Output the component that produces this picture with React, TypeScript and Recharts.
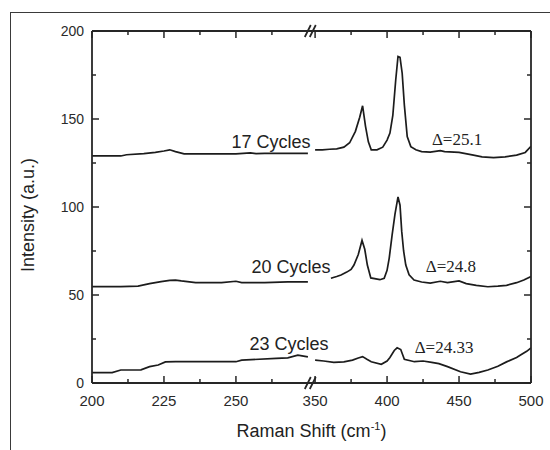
import React from 'react';
import { LineChart, Line, XAxis, YAxis, ReferenceDot } from 'recharts';

// ---- data (Raman shift in cm^-1, intensity in a.u.) ----
const shift17L = [200, 210, 212, 218, 222, 225, 227, 229, 232, 240, 250, 255, 257, 260, 265, 275];
const int17L = [129, 129, 129.7, 130.3, 131, 131.8, 132.5, 131.5, 130.2, 130.2, 130.2, 130.8, 130.3, 130.5, 130.5, 130.5];
const shift17R = [350, 355, 360, 365, 370, 374, 378, 381, 383, 385, 387, 389, 393, 397, 400, 402, 404, 406, 407.6, 409, 410.5, 412, 414, 416.5, 420, 424, 430, 437, 440, 450, 460, 466, 474, 482, 490, 496, 500];
const int17R = [132.5, 132.5, 132.8, 133, 134, 136.5, 143, 151, 157.5, 146, 137, 132.5, 132.5, 134, 138, 142, 152, 172, 185.5, 185, 176, 158, 140, 134.3, 132.5, 131.5, 131.2, 132, 131.5, 131, 129.5, 128.5, 128, 128.5, 129.5, 131, 134.5];

const shift20L = [200, 210, 216, 220, 224, 227, 229, 231, 236, 245, 250, 252, 260, 268, 275];
const int20L = [54.8, 54.8, 55, 56.5, 57.6, 58.3, 58.5, 58, 57, 57, 57.8, 57, 57, 57.5, 57.5];
const shift20R = [361, 365, 368, 372, 375, 377, 380, 382.6, 384.5, 386.3, 388.7, 395, 398, 400, 401.5, 403.5, 405.5, 407.6, 409, 410.2, 411.5, 413, 415.3, 418.75, 424, 430, 437, 442, 450, 455, 462, 470, 477, 483, 490, 495, 500];
const int20R = [59.5, 60.5, 61.4, 63, 64.5, 67, 73, 81, 76, 67, 59.7, 58.7, 59.5, 64, 71, 84, 96, 105.7, 101, 86, 75, 67, 61.5, 58.5, 57.4, 56.8, 57.8, 57, 58, 56.5, 55.5, 54.7, 55, 55.5, 57, 58.5, 60.5];

const shift23L = [200, 207, 210, 217, 220, 223, 225.5, 229, 250, 252, 264, 268, 271.5, 275];
const int23L = [5.9, 5.9, 7.4, 7.5, 9.3, 10.2, 12, 12.1, 12.1, 13, 14, 14.3, 15.8, 14.8];
const shift23R = [350, 356, 363, 370, 376, 380, 383, 386, 389, 396, 400, 402, 405, 407, 409.5, 412, 419, 425, 431, 436, 442, 451, 458, 464, 470, 477, 483, 490, 493, 497, 500];
const int23R = [13, 12.5, 11.7, 12, 13, 14.2, 15, 13.5, 12.1, 10.6, 12.5, 14.5, 18.5, 20, 19, 13.5, 12.1, 12.5, 11.7, 11, 9.3, 6.4, 5.1, 6, 7.4, 9.5, 12, 14.5, 16, 18, 20];

// ---- ticks ----
const xMajor = [200, 225, 250, 350, 400, 450, 500];
const xMinor = [212.5, 237.5, 262.5, 375, 425, 475];
const yMajor = [0, 50, 100, 150, 200];
const yMinor = [25, 75, 125, 175];

// ---- annotations ----
const cycleText = ['17 Cycles', '20 Cycles', '23 Cycles'];
const cycleX = [262.2, 269.1, 268.4];
const cycleY = [133.7, 62.5, 18.75];
const deltaText = ['\u0394=25.1', '\u0394=24.8', '\u0394=24.33'];
const deltaX = [448.6, 444.4, 439.6];
const deltaY = [135.2, 63, 17];

// ---- broken axis transform: 200-275 kept, 350-500 compressed by 2 ----
const BREAK_SHIFT = 276;
const toU = (s: number) => (s <= BREAK_SHIFT ? s : 277.5 + (s - 350) / 2);

const build = (sl: number[], il: number[], sr: number[], ir: number[]) => [
  ...sl.map((s, i) => ({ u: toU(s), v: il[i] as number | null })),
  { u: toU(BREAK_SHIFT), v: null },
  ...sr.map((s, i) => ({ u: toU(s), v: ir[i] as number | null })),
];

const data17 = build(shift17L, int17L, shift17R, int17R);
const data20 = build(shift20L, int20L, shift20R, int20R);
const data23 = build(shift23L, int23L, shift23R, int23R);

const xTicksU = [...xMajor, ...xMinor].map(toU).sort((a, b) => a - b);
const xLabelByU = new Map(xMajor.map((v) => [toU(v), String(v)]));
const yTicks = [...yMajor, ...yMinor].sort((a, b) => a - b);

const AX = '#262626';
const SANS = "'Liberation Sans', Arial, Helvetica, sans-serif";
const SERIF = "'Liberation Serif', 'Times New Roman', serif";

const BottomTick = (p: any) => {
  const lab = xLabelByU.get(p.payload.value);
  const major = lab !== undefined;
  return (
    <g>
      <line x1={p.x} x2={p.x} y1={p.y} y2={p.y - (major ? 7 : 4)} stroke={AX} strokeWidth={1.5} />
      {major && (
        <text x={p.x} y={p.y + 23} textAnchor="middle" fontSize={15} fontFamily={SANS} fill="#2a2a2a">
          {lab}
        </text>
      )}
    </g>
  );
};

const TopTick = (p: any) => {
  const major = xLabelByU.has(p.payload.value);
  return <line x1={p.x} x2={p.x} y1={p.y} y2={p.y + (major ? 7 : 4)} stroke={AX} strokeWidth={1.5} />;
};

const LeftTick = (p: any) => {
  const v = p.payload.value;
  const major = v % 50 === 0;
  return (
    <g>
      <line x1={p.x} x2={p.x + (major ? 7 : 4)} y1={p.y} y2={p.y} stroke={AX} strokeWidth={1.5} />
      {major && (
        <text x={p.x - 8} y={p.y + 5} textAnchor="end" fontSize={14} fontFamily={SANS} fill="#2a2a2a">
          {v}
        </text>
      )}
    </g>
  );
};

const RightTick = (p: any) => {
  const v = p.payload.value;
  const major = v % 50 === 0;
  return <line x1={p.x} x2={p.x - (major ? 7 : 4)} y1={p.y} y2={p.y} stroke={AX} strokeWidth={1.5} />;
};

const BreakMark = (p: any) => {
  const { cx, cy } = p;
  return (
    <g>
      <line x1={cx - 6} y1={cy + 6} x2={cx} y2={cy - 6} stroke={AX} strokeWidth={1.8} />
      <line x1={cx - 1} y1={cy + 6} x2={cx + 5} y2={cy - 6} stroke={AX} strokeWidth={1.8} />
    </g>
  );
};

const makeText = (txt: string, size: number, family: string) => (p: any) => (
  <text x={p.cx} y={p.cy} textAnchor="middle" fontSize={size} fontFamily={family} fill="#222">
    {txt}
  </text>
);

const YTitle = (p: any) => {
  const vb = p.viewBox;
  return (
    <text
      transform={`translate(${vb.x + 34},${vb.y + vb.height / 2 + 8}) rotate(-90)`}
      textAnchor="middle"
      fontSize={18}
      fontFamily={SANS}
      fill="#222"
    >
      Intensity (a.u.)
    </text>
  );
};

const XTitle = (p: any) => {
  const vb = p.viewBox;
  return (
    <text x={vb.x + vb.width / 2} y={vb.y + 54} textAnchor="middle" fontSize={18} fontFamily={SANS} fill="#222">
      <tspan>Raman Shift (cm</tspan>
      <tspan dy={-7} fontSize={11}>-1</tspan>
      <tspan dy={7}>)</tspan>
    </text>
  );
};

export default function App() {
  return (
    <div style={{ position: 'absolute', left: 0, top: 0, width: 550, height: 450, overflow: 'hidden', background: '#fff' }}>
      <div
        style={{
          position: 'absolute',
          left: 10,
          top: 12,
          width: 700,
          height: 700,
          border: '1.5px solid #3a3a3a',
          boxSizing: 'border-box',
        }}
      />
      <div style={{ position: 'absolute', left: 0, top: 0 }}>
        <LineChart width={550} height={450} margin={{ top: 30, right: 0, bottom: 37, left: 0 }}>
          <XAxis
            xAxisId="b"
            dataKey="u"
            type="number"
            orientation="bottom"
            domain={[toU(200), toU(500)]}
            allowDataOverflow
            ticks={xTicksU}
            interval={0}
            tickSize={0}
            tickMargin={0}
            tickLine={false}
            axisLine={{ stroke: AX, strokeWidth: 1.8 }}
            tick={BottomTick}
            height={30}
            label={XTitle}
          />
          <XAxis
            xAxisId="t"
            dataKey="u"
            type="number"
            orientation="top"
            domain={[toU(200), toU(500)]}
            allowDataOverflow
            ticks={xTicksU}
            interval={0}
            tickSize={0}
            tickMargin={0}
            tickLine={false}
            axisLine={{ stroke: AX, strokeWidth: 1.8 }}
            tick={TopTick}
            height={1}
          />
          <YAxis
            yAxisId="l"
            orientation="left"
            type="number"
            domain={[0, 200]}
            allowDataOverflow
            ticks={yTicks}
            interval={0}
            tickSize={0}
            tickMargin={0}
            tickLine={false}
            axisLine={{ stroke: AX, strokeWidth: 1.8 }}
            tick={LeftTick}
            width={92}
            label={YTitle}
          />
          <YAxis
            yAxisId="r"
            orientation="right"
            type="number"
            domain={[0, 200]}
            allowDataOverflow
            ticks={yTicks}
            interval={0}
            tickSize={0}
            tickMargin={0}
            tickLine={false}
            axisLine={{ stroke: AX, strokeWidth: 1.8 }}
            tick={RightTick}
            width={19}
          />
          <Line xAxisId="b" yAxisId="l" data={data17} dataKey="v" type="linear" stroke="#1c1c1c" strokeWidth={1.7} dot={false} isAnimationActive={false} connectNulls={false} />
          <Line xAxisId="b" yAxisId="l" data={data20} dataKey="v" type="linear" stroke="#1c1c1c" strokeWidth={1.7} dot={false} isAnimationActive={false} connectNulls={false} />
          <Line xAxisId="b" yAxisId="l" data={data23} dataKey="v" type="linear" stroke="#1c1c1c" strokeWidth={1.7} dot={false} isAnimationActive={false} connectNulls={false} />
          <ReferenceDot xAxisId="b" yAxisId="l" x={toU(BREAK_SHIFT)} y={200} ifOverflow="visible" shape={BreakMark} />
          <ReferenceDot xAxisId="b" yAxisId="l" x={toU(BREAK_SHIFT)} y={0} ifOverflow="visible" shape={BreakMark} />
          {cycleText.map((t, i) => (
            <ReferenceDot key={t} xAxisId="b" yAxisId="l" x={toU(cycleX[i])} y={cycleY[i]} ifOverflow="visible" shape={makeText(t, 18, SANS)} />
          ))}
          {deltaText.map((t, i) => (
            <ReferenceDot key={t} xAxisId="b" yAxisId="l" x={toU(deltaX[i])} y={deltaY[i]} ifOverflow="visible" shape={makeText(t, 17, SERIF)} />
          ))}
        </LineChart>
      </div>
    </div>
  );
}
